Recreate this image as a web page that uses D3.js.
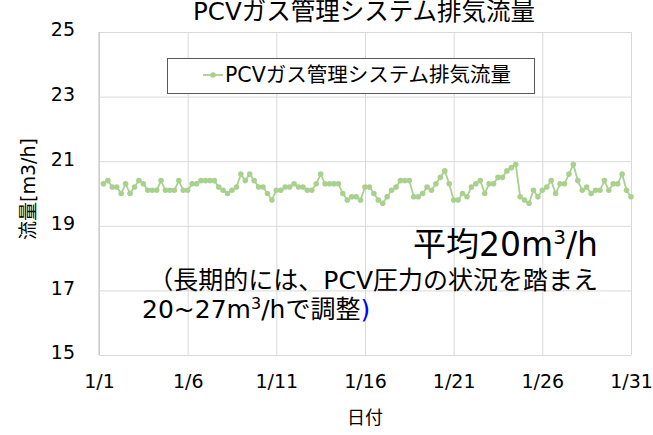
<!DOCTYPE html>
<html>
<head>
<meta charset="utf-8">
<script src="https://cdn.jsdelivr.net/npm/d3@7"></script>
<style>
  body { margin: 0; background: #fff; }
  text { font-family: "DejaVu Sans", "Noto Sans CJK JP", sans-serif; fill: #000; }
</style>
</head>
<body>
<div id="chart"></div>
<script>
// data: exhaust flow, 4 readings per day (1/1 06:00 .. 1/31 00:00)
var seriesName = 'PCVガス管理システム排気流量';
var flow = [
  20.3, 20.4, 20.2, 20.2, 20.0, 20.3, 20.0, 20.2, 20.4, 20.3,
  20.1, 20.1, 20.1, 20.4, 20.1, 20.1, 20.1, 20.4, 20.1, 20.1,
  20.3, 20.3, 20.4, 20.4, 20.4, 20.4, 20.2, 20.1, 20.0, 20.1,
  20.2, 20.6, 20.4, 20.6, 20.4, 20.2, 20.2, 20.0, 19.8, 20.1,
  20.1, 20.2, 20.2, 20.3, 20.2, 20.2, 20.1, 20.1, 20.3, 20.6,
  20.3, 20.3, 20.3, 20.3, 20.0, 19.8, 19.9, 19.9, 19.8, 20.2,
  20.2, 20.0, 19.8, 19.7, 19.9, 20.1, 20.2, 20.4, 20.4, 20.4,
  19.9, 19.9, 20.0, 20.2, 20.1, 20.3, 20.5, 20.7, 20.3, 19.8,
  19.8, 20.0, 19.9, 20.2, 20.3, 20.4, 20.0, 20.3, 20.3, 20.5,
  20.5, 20.7, 20.8, 20.9, 19.9, 19.8, 19.7, 20.1, 19.9, 20.1,
  20.2, 20.4, 20.0, 20.3, 20.3, 20.6, 20.9, 20.4, 20.1, 20.2,
  20.0, 20.1, 20.1, 20.4, 20.1, 20.3, 20.3, 20.6, 20.1, 19.9
];
var readingsPerDay = 4;
var xTickDays = [1, 6, 11, 16, 21, 26, 31];
var yTicks = [15, 17, 19, 21, 23, 25];

var svgWidth = 653;
var svgHeight = 435;
var margin = { top: 32, right: 22, bottom: 80, left: 99 };
var width = svgWidth - margin.left - margin.right;
var height = svgHeight - margin.top - margin.bottom;

var green = '#a9d18e';

var svg = d3.select('#chart')
    .append('svg')
    .attr('width', svgWidth)
    .attr('height', svgHeight);

var chartGroup = svg.append('g')
    .attr('transform', `translate(${margin.left}, ${margin.top})`);

var data = flow.map(function(v, i) {
    return { day: 1 + (i + 1) / readingsPerDay, value: v };
});

var xScale = d3.scaleLinear().domain([1, 31]).range([0, width]);
var yScale = d3.scaleLinear().domain([15, 25]).range([height, 0]);

// grid
chartGroup.append('g')
    .call(d3.axisLeft(yScale).tickValues(yTicks).tickSize(-width).tickFormat(''))
    .call(g => g.select('.domain').remove())
    .selectAll('line').attr('stroke', '#d9d9d9');

chartGroup.append('g')
    .attr('transform', `translate(0, ${height})`)
    .call(d3.axisBottom(xScale).tickValues(xTickDays).tickSize(-height).tickFormat(''))
    .call(g => g.select('.domain').remove())
    .selectAll('line').attr('stroke', '#d9d9d9');

// left axis line
chartGroup.append('line')
    .attr('x1', 0).attr('x2', 0)
    .attr('y1', 0).attr('y2', height)
    .attr('stroke', '#bfbfbf');

// tick labels
var leftAxis = chartGroup.append('g')
    .call(d3.axisLeft(yScale).tickValues(yTicks).tickSize(0).tickPadding(24));
leftAxis.select('.domain').remove();
leftAxis.selectAll('text')
    .attr('font-size', 19)
    .attr('dy', '0.2em')
    .style('font-family', '"DejaVu Sans", sans-serif');

var bottomAxis = chartGroup.append('g')
    .attr('transform', `translate(0, ${height})`)
    .call(d3.axisBottom(xScale).tickValues(xTickDays).tickSize(0).tickPadding(20)
        .tickFormat(d => '1/' + d));
bottomAxis.select('.domain').remove();
bottomAxis.selectAll('text')
    .attr('font-size', 19)
    .style('font-family', '"DejaVu Sans", sans-serif');

// series
var line = d3.line()
    .x(d => xScale(d.day))
    .y(d => yScale(d.value));

chartGroup.append('path')
    .datum(data)
    .attr('fill', 'none')
    .attr('stroke', green)
    .attr('stroke-width', 1.8)
    .attr('d', line);

chartGroup.selectAll('circle')
    .data(data)
    .enter()
    .append('circle')
    .attr('cx', d => xScale(d.day))
    .attr('cy', d => yScale(d.value))
    .attr('r', 2.8)
    .attr('fill', green);

// title
svg.append('text')
    .attr('x', 364)
    .attr('y', 20)
    .attr('text-anchor', 'middle')
    .attr('font-size', 24.5)
    .text(seriesName);

// legend
var legend = svg.append('g');
legend.append('rect')
    .attr('x', 167.5).attr('y', 58.5)
    .attr('width', 367).attr('height', 35)
    .attr('fill', '#fff')
    .attr('stroke', '#595959');
legend.append('line')
    .attr('x1', 203).attr('x2', 223)
    .attr('y1', 75).attr('y2', 75)
    .attr('stroke', green).attr('stroke-width', 1.8);
legend.append('circle')
    .attr('cx', 213).attr('cy', 75).attr('r', 2.8).attr('fill', green);
legend.append('text')
    .attr('x', 225).attr('y', 82)
    .attr('font-size', 20.5)
    .text(seriesName);

// axis titles
svg.append('text')
    .attr('transform', `translate(35, 189) rotate(-90)`)
    .attr('text-anchor', 'middle')
    .attr('font-size', 19)
    .text('流量[m3/h]');

svg.append('text')
    .attr('x', 365)
    .attr('y', 424)
    .attr('text-anchor', 'middle')
    .attr('font-size', 18)
    .text('日付');

// annotation
var note1 = svg.append('text')
    .attr('x', 598).attr('y', 256)
    .attr('text-anchor', 'end')
    .attr('font-size', 33);
note1.append('tspan').text('平均20m');
note1.append('tspan').attr('font-size', 20).attr('dy', -12).text('3');
note1.append('tspan').attr('dy', 12).text('/h');

svg.append('text')
    .attr('x', 598).attr('y', 289)
    .attr('text-anchor', 'end')
    .attr('font-size', 25)
    .text('（長期的には、PCV圧力の状況を踏まえ');

var note3 = svg.append('text')
    .attr('x', 142).attr('y', 318)
    .attr('font-size', 25);
note3.append('tspan').text('20~27m');
note3.append('tspan').attr('font-size', 16).attr('dy', -9).text('3');
note3.append('tspan').attr('dy', 9).text('/hで調整');
note3.append('tspan').style('fill', '#0000ff').text(')');
</script>
</body>
</html>
